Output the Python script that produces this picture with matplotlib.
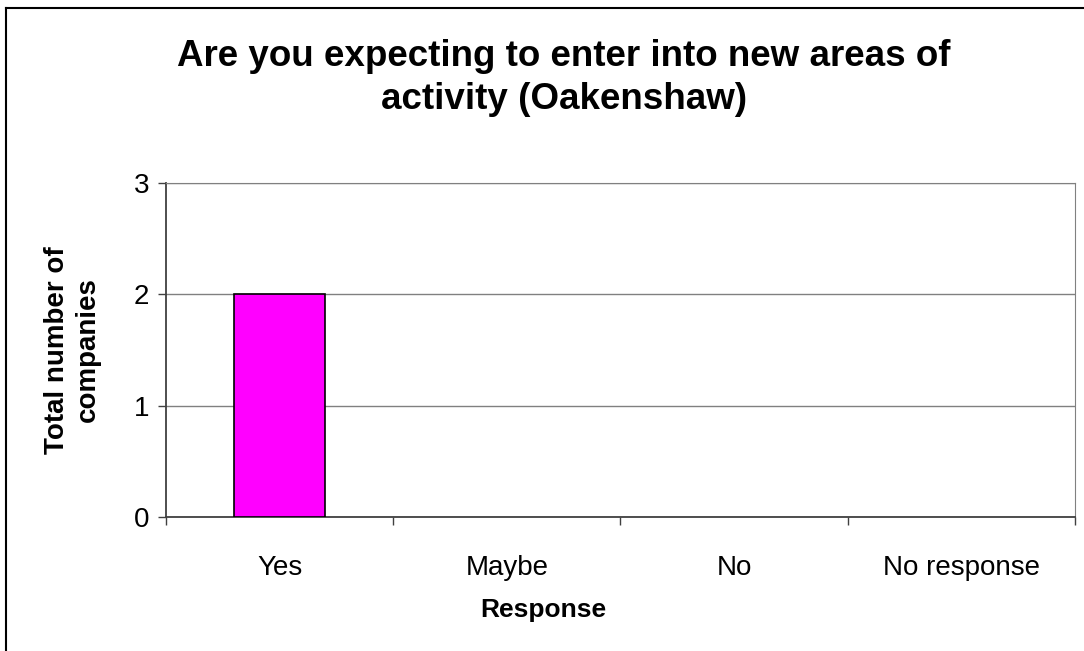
import matplotlib.pyplot as plt
from matplotlib.lines import Line2D

plt.rcParams['font.family'] = ['Liberation Sans', 'DejaVu Sans']

categories = ['Yes', 'Maybe', 'No', 'No response']
companies = [2, 0, 0, 0]
y_ticks = [0, 1, 2, 3]

fig = plt.figure(figsize=(10.84, 6.51), dpi=100)
ax = fig.add_axes([0.1531, 0.2058, 0.8386, 0.5131])

ax.bar(range(len(categories)), companies, width=0.4, color='#ff00ff',
       edgecolor='black', linewidth=[1.2 if v > 0 else 0 for v in companies], zorder=3)

ax.set_xlim(-0.5, len(categories) - 0.5)
ax.set_ylim(0, 3)
ax.set_yticks(y_ticks)
ax.yaxis.grid(True, color='#808080', linewidth=1.0, zorder=0)

ax.set_xticks(range(len(categories)))
ax.set_xticklabels(categories, fontsize=20)
ax.tick_params(axis='x', which='major', length=0, pad=27)
ax.set_xticks([i - 0.5 for i in range(len(categories) + 1)], minor=True)
ax.tick_params(axis='x', which='minor', length=6, width=1, color='#404040')
ax.tick_params(axis='y', length=6, width=1, color='#404040', labelsize=20, pad=6)

for s in ['top', 'right']:
    ax.spines[s].set_color('#808080')
for s in ['left', 'bottom']:
    ax.spines[s].set_color('#404040')
    ax.spines[s].set_linewidth(1.3)

# x axis title sits centred on the whole chart, not the plot area
fig.text(0.501, 0.063, 'Response', ha='center', va='center',
         fontsize=19, fontweight='bold')
ax.set_ylabel('Total number of\ncompanies', fontsize=20, fontweight='bold',
              labelpad=24, linespacing=1.2)

fig.text(0.52, 0.88, 'Are you expecting to enter into new areas of\nactivity (Oakenshaw)',
         ha='center', va='center', fontsize=26.5, fontweight='bold', linespacing=1.3)

# outer chart border (left and top edges visible)
fig.add_artist(Line2D([0.0055, 0.0055], [0, 0.988], transform=fig.transFigure,
                      color='black', linewidth=1.5))
fig.add_artist(Line2D([0.0055, 1], [0.988, 0.988], transform=fig.transFigure,
                      color='black', linewidth=1.5))

fig.savefig('out.png', dpi=100)
